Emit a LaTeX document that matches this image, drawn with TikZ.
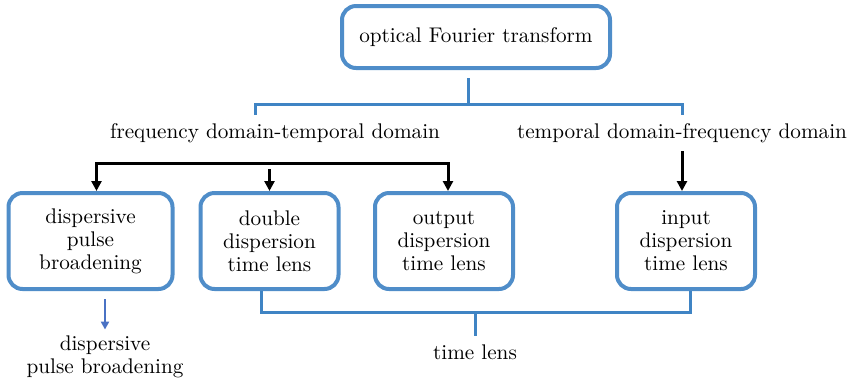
\documentclass[tikz,border=0pt]{standalone}
\usetikzlibrary{positioning, arrows.meta, calc}
\definecolor{boxblue}{HTML}{4F8DC9}
\definecolor{linkblue}{HTML}{3F84C4}
\definecolor{arrowblue}{HTML}{4A72C4}

\begin{document}
\begin{tikzpicture}[
  x=0.5pt, y=-0.5pt,
  every node/.style={font=\fontsize{10.6}{11.5}\selectfont},
  lensbox/.style={
    draw=boxblue, fill=white, line width=2pt, rounded corners=7pt,
    minimum width=69pt, minimum height=48pt, align=center, inner sep=2pt
  },
  txt/.style={align=center, inner sep=2pt},
  link/.style={linkblue, line width=1.5pt},
  arrow/.style={-{Triangle[length=5pt, width=5pt]}, black, line width=1.5pt},
  thinarrow/.style={-{Triangle[length=4pt, width=4pt]}, arrowblue, line width=1pt}
]
  \useasboundingbox (0,0) rectangle (848,382);

  \node[lensbox, minimum width=134pt, minimum height=31pt] (oft) at (476,37) {optical Fourier transform};
  \node[txt] (ftd) at (275,133) {frequency domain-temporal domain};
  \node[txt] (tfd) at (682,133) {temporal domain-frequency domain};

  \node[lensbox, minimum width=82pt] (dpb) at (90.5,241) {dispersive\\pulse\\broadening};
  \node[lensbox] (ddt) at (269.5,241) {double\\dispersion\\time lens};
  \node[lensbox] (odt) at (444,241) {output\\dispersion\\time lens};
  \node[lensbox] (idt) at (686,241) {input\\dispersion\\time lens};

  \node[txt] (dpb2) at (105,357) {dispersive\\pulse broadening};
  \node[txt] (tl) at (475,352) {time lens};

  % bracket under the top box
  \draw[link] ([xshift=-4pt, yshift=-4pt]oft.south) -- ++(0,26) coordinate (fork);
  \draw[link] ([xshift=-10pt, yshift=2pt]ftd.north) |- (fork) -| ([yshift=2pt]tfd.north);

  % arrows to the boxes
  \coordinate (split) at ([yshift=-8pt]ftd.south);
  \draw[arrow, {Triangle[length=5pt, width=5pt]}-{Triangle[length=5pt, width=5pt]}]
    ([xshift=3pt]dpb.north) |- (split) -| ([xshift=2pt]odt.north);
  \draw[arrow] ([yshift=-3pt]split -| ddt.north) -- (ddt.north);
  \draw[arrow] ([yshift=-2pt]tfd.south) -- (tfd.south |- idt.north);
  \draw[thinarrow] ([yshift=-4pt]dpb.south -| dpb2.north) -- ([yshift=1pt]dpb2.north);

  % bracket under the time lens boxes
  \draw[link] ([xshift=-4pt]ddt.south) -- ++(0,21) coordinate (bar) -| ([xshift=2pt]idt.south);
  \draw[link] (bar -| tl.north) -- ([yshift=2pt]tl.north);
\end{tikzpicture}
\end{document}
